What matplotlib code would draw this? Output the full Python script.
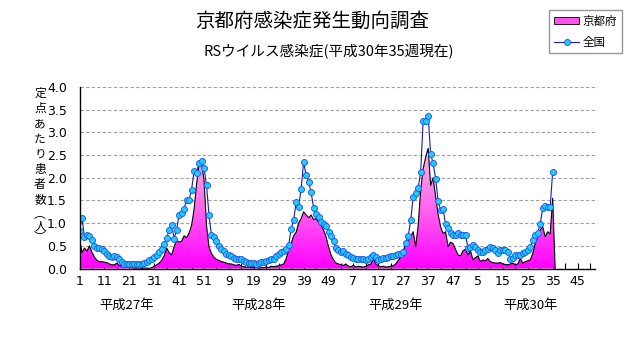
import numpy as np
import matplotlib.pyplot as plt
from matplotlib.colors import LinearSegmentedColormap
from matplotlib.lines import Line2D
from matplotlib.patches import Patch

plt.rcParams['font.family'] = ['Noto Sans CJK JP', 'DejaVu Sans']

# 定点あたり患者数, 52 weeks per year, H30 up to week 35
kyoto_h27 = [0.65, 0.35, 0.45, 0.38, 0.50, 0.36, 0.25, 0.18, 0.15, 0.15,
             0.14, 0.13, 0.10, 0.08, 0.08, 0.12, 0.07, 0.06, 0.05, 0.05,
             0.04, 0.02, 0.01, 0.01, 0.02, 0.00, 0.01, 0.01, 0.00, 0.02,
             0.05, 0.08, 0.12, 0.18, 0.28, 0.45, 0.35, 0.30, 0.48, 0.62,
             0.58, 0.60, 0.72, 0.68, 0.78, 0.95, 1.30, 1.85, 2.30, 2.32,
             1.95, 0.95]
kyoto_h28 = [0.48, 0.33, 0.25, 0.20, 0.18, 0.15, 0.14, 0.12, 0.10, 0.10,
             0.08, 0.07, 0.09, 0.05, 0.04, 0.03, 0.04, 0.02, 0.02, 0.03,
             0.01, 0.02, 0.02, 0.03, 0.02, 0.05, 0.04, 0.05, 0.06, 0.08,
             0.10, 0.22, 0.40, 0.55, 0.72, 0.80, 1.00, 1.10, 1.25, 1.18,
             1.12, 1.18, 1.08, 1.10, 1.02, 0.95, 0.85, 0.70, 0.48, 0.30,
             0.19, 0.12]
kyoto_h29 = [0.10, 0.08, 0.07, 0.10, 0.05, 0.04, 0.07, 0.03, 0.05, 0.04,
             0.03, 0.05, 0.08, 0.10, 0.22, 0.10, 0.06, 0.04, 0.05, 0.03,
             0.04, 0.05, 0.06, 0.10, 0.18, 0.25, 0.35, 0.55, 0.62, 0.70,
             0.81, 0.48, 0.95, 1.73, 2.20, 2.45, 2.65, 1.83, 2.00, 1.58,
             1.20, 0.92, 0.77, 0.81, 0.48, 0.58, 0.55, 0.42, 0.30, 0.28,
             0.39, 0.43]
kyoto_h30 = [0.30, 0.39, 0.19, 0.24, 0.28, 0.15, 0.19, 0.17, 0.22, 0.15,
             0.13, 0.12, 0.12, 0.13, 0.10, 0.09, 0.08, 0.10, 0.12, 0.08,
             0.10, 0.22, 0.12, 0.15, 0.17, 0.19, 0.33, 0.55, 0.70, 0.85,
             0.92, 0.70, 0.81, 0.76, 1.55]

zenkoku_h27 = [0.83, 1.12, 0.70, 0.74, 0.72, 0.62, 0.50, 0.46, 0.45, 0.43,
               0.38, 0.33, 0.27, 0.25, 0.28, 0.26, 0.20, 0.14, 0.11, 0.11,
               0.11, 0.11, 0.11, 0.11, 0.11, 0.10, 0.12, 0.15, 0.18, 0.22,
               0.26, 0.30, 0.36, 0.42, 0.54, 0.67, 0.85, 0.96, 0.66, 0.85,
               1.19, 1.22, 1.31, 1.52, 1.51, 1.74, 2.14, 2.11, 2.33, 2.36,
               2.21, 1.85]
zenkoku_h28 = [1.17, 0.73, 0.70, 0.61, 0.50, 0.42, 0.38, 0.33, 0.30, 0.27,
               0.24, 0.20, 0.22, 0.20, 0.17, 0.15, 0.13, 0.12, 0.13, 0.11,
               0.12, 0.14, 0.15, 0.17, 0.19, 0.20, 0.22, 0.28, 0.32, 0.36,
               0.39, 0.42, 0.52, 0.88, 1.07, 1.47, 1.36, 1.76, 2.35, 2.05,
               1.91, 1.68, 1.34, 1.21, 1.14, 1.03, 0.98, 0.94, 0.81, 0.72,
               0.61, 0.45]
zenkoku_h29 = [0.40, 0.37, 0.39, 0.33, 0.30, 0.26, 0.23, 0.22, 0.22, 0.22,
               0.20, 0.19, 0.21, 0.25, 0.30, 0.26, 0.19, 0.22, 0.23, 0.24,
               0.26, 0.27, 0.28, 0.29, 0.31, 0.33, 0.37, 0.57, 0.72, 1.07,
               1.58, 1.67, 1.77, 2.13, 3.26, 3.24, 3.37, 2.52, 2.32, 1.98,
               1.48, 1.29, 1.32, 0.97, 0.90, 0.78, 0.74, 0.74, 0.79, 0.73,
               0.73, 0.73]
zenkoku_h30 = [0.46, 0.48, 0.51, 0.47, 0.41, 0.37, 0.37, 0.41, 0.42, 0.47,
               0.46, 0.40, 0.34, 0.40, 0.41, 0.40, 0.36, 0.22, 0.24, 0.30,
               0.30, 0.30, 0.34, 0.36, 0.40, 0.48, 0.62, 0.74, 0.79, 0.98,
               1.33, 1.38, 1.36, 1.36, 2.13]

week_labels = ['1', '11', '21', '31', '41', '51', '9', '19', '29', '39', '49',
               '7', '17', '27', '37', '47', '5', '15', '25', '35', '45']
year_labels = ['平成27年', '平成28年', '平成29年', '平成30年']
year_label_x = [19, 72, 127, 181]
ylabel_chars = ['定', '点', 'あ', 'た', 'り', '患', '者', '数', '︵\n人\n︶']
ylabel_y = [93, 108.3, 123.6, 138.9, 154.2, 169.5, 184.8, 200.1, 226]

kyoto = np.array(kyoto_h27 + kyoto_h28 + kyoto_h29 + kyoto_h30)
zenkoku = np.array(zenkoku_h27 + zenkoku_h28 + zenkoku_h29 + zenkoku_h30)
weeks = np.arange(len(zenkoku))
n_cat = 208

W, H = 631, 347
fig = plt.figure(figsize=(W / 100, H / 100), dpi=100)
ax = fig.add_axes([79.5 / W, 1 - 268.5 / H, (595 - 79.5) / W, (268.5 - 87) / H])

# kyoto area, gradient fill; the empty week after the last is drawn as 0
xk = np.arange(len(kyoto) + 1)
yk = np.append(kyoto, 0.0)
area = ax.fill_between(xk, yk, 0, facecolor='none', edgecolor='none', zorder=2)
grad = np.linspace(0, 1, 256).reshape(-1, 1)
pink = LinearSegmentedColormap.from_list('pk', ['#ff00ff', '#ff66ee', '#ffb8e6'])
img = ax.imshow(grad, extent=[0, n_cat - 1, 0, 2.7], origin='lower', aspect='auto',
                cmap=pink, zorder=2, interpolation='bilinear')
img.set_clip_path(area.get_paths()[0], transform=ax.transData)
ax.plot(xk, yk, color='black', lw=0.8, zorder=3)

ax.plot(weeks, zenkoku, color='#1a1ab0', lw=0.8, marker='o', ms=4.3,
        mfc='#22ccff', mec='#2060e8', mew=0.7, zorder=4)

ax.set_xlim(0, n_cat - 1)
ax.set_ylim(0, 4)
ax.set_yticks(np.arange(0, 4.01, 0.5))
ax.set_yticklabels(['%.1f' % v for v in np.arange(0, 4.01, 0.5)],
                   family=['Liberation Sans Narrow', 'DejaVu Sans'], fontsize=9)
ax.set_xticks(np.arange(0, 201, 10))
ax.set_xticklabels(week_labels, family=['Liberation Sans Narrow', 'DejaVu Sans'], fontsize=9)
ax.set_xticks(np.arange(5, n_cat, 10), minor=True)
ax.tick_params(axis='x', which='both', direction='in', length=4, width=0.8, pad=4.5)
ax.tick_params(axis='y', length=0, pad=9)
ax.grid(axis='y', color='#a0a0a0', linestyle=(0, (3, 2)), lw=0.8)
ax.set_axisbelow(True)
for s in ['top', 'right']:
    ax.spines[s].set_visible(False)
for s in ['left', 'bottom']:
    ax.spines[s].set_linewidth(1.0)
    ax.spines[s].set_zorder(5)

for xp, lab in zip(year_label_x, year_labels):
    ax.text(xp, -0.205, lab, transform=ax.get_xaxis_transform(),
            ha='center', va='center', fontsize=9.5)

for ch, yp in zip(ylabel_chars, ylabel_y):
    fig.text(40 / W, 1 - yp / H, ch, ha='center', va='center', fontsize=8.5,
             linespacing=0.85)

fig.text(312 / W, 1 - 21 / H, '京都府感染症発生動向調査', ha='center', va='center', fontsize=14)
fig.text(329 / W, 1 - 52 / H, 'RSウイルス感染症(平成30年35週現在)', ha='center', va='center', fontsize=10.5)

handles = [Patch(facecolor='#ff55ee', edgecolor='black', lw=0.6),
           Line2D([], [], color='#1a1ab0', lw=0.8, marker='o', ms=4.3,
                  mfc='#22ccff', mec='#2060e8', mew=0.7)]
fig.legend(handles, ['京都府', '全国'], loc='upper right',
           bbox_to_anchor=(622 / W, 1 - 10 / H), frameon=True, fancybox=False,
           edgecolor='#808080', fontsize=8.3, borderpad=0.4, labelspacing=0.7,
           handlelength=2.2, handleheight=0.5, handletextpad=0.3, borderaxespad=0)

fig.savefig('out.png', dpi=100)
